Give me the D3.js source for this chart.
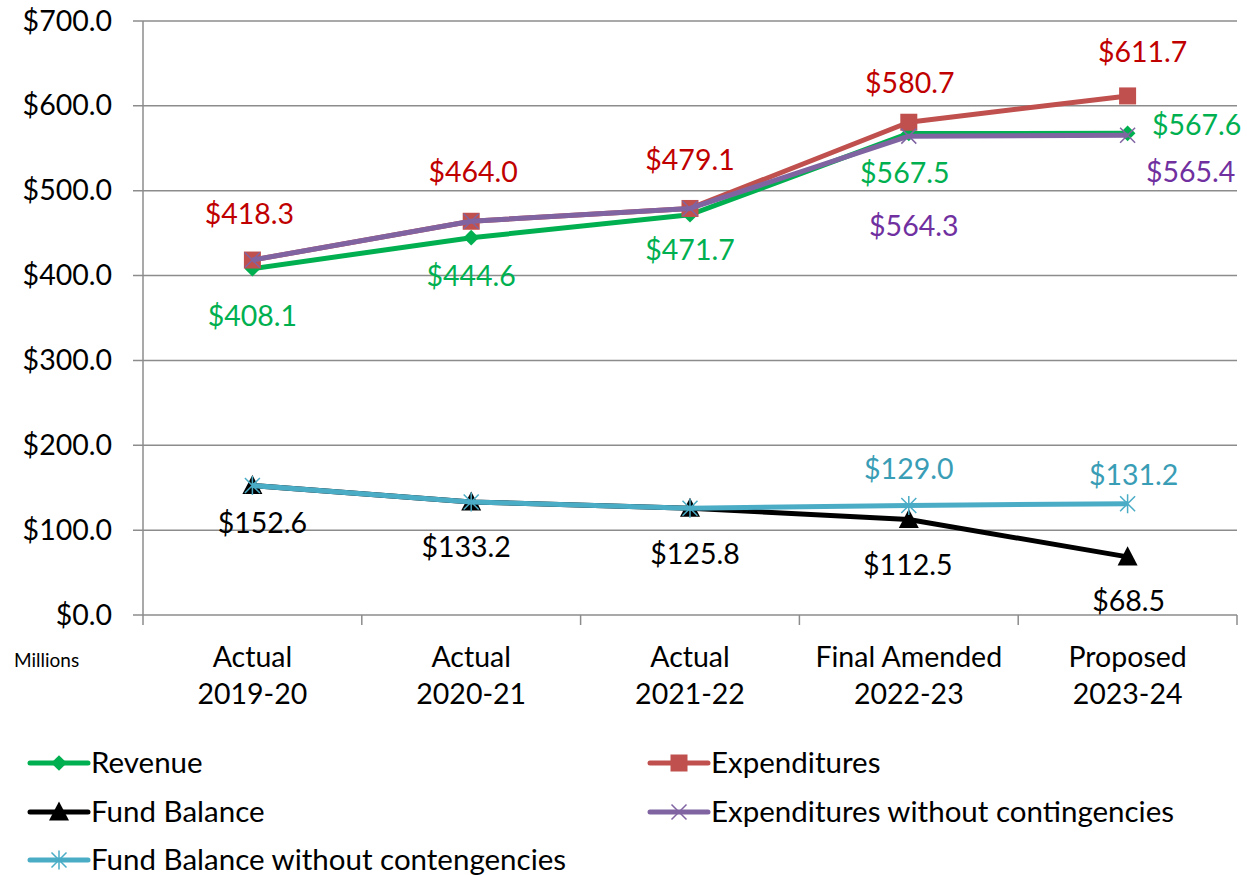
<!DOCTYPE html>
<html>
<head>
<meta charset="utf-8">
<script src="https://cdn.jsdelivr.net/npm/d3@7"></script>
<style>
  body { margin: 0; background: #fff; }
  text { font-family: Lato, "Open Sans", sans-serif; }
</style>
</head>
<body>
<div class="chart"></div>
<script>
// data
var categories = [["Actual", "2019-20"], ["Actual", "2020-21"], ["Actual", "2021-22"],
                  ["Final Amended", "2022-23"], ["Proposed", "2023-24"]];
var revenue = [408.1, 444.6, 471.7, 567.5, 567.6];
var expenditures = [418.3, 464.0, 479.1, 580.7, 611.7];
var fundBalance = [152.6, 133.2, 125.8, 112.5, 68.5];
var expNoCont = [418.3, 464.0, 479.1, 564.3, 565.4];
var fundNoCont = [152.6, 133.2, 125.8, 129.0, 131.2];
var yTicks = [0, 100, 200, 300, 400, 500, 600, 700];

// label offsets (dx, dy) from the point, null = no label
var revOff = [[0, 47], [0, 38], [0, 35], [-4, 40], [69, -8]];
var expOff = [[-3, -46], [2, -49], [0, -48], [1, -39], [15, -44]];
var fundOff = [[10, 38], [-5, 45], [5, 46], [-1, 45], [1, 44]];
var expNcOff = [null, null, null, [5, 90], [63, 37]];
var fundNcOff = [null, null, null, [0, -37], [6, -29]];

var FS = 28.5;

var series = [
  { name: "Revenue", values: revenue, line: "#00B050", text: "#00B050", marker: "diamond", off: revOff },
  { name: "Expenditures", values: expenditures, line: "#C0504D", text: "#C00000", marker: "square", off: expOff },
  { name: "Fund Balance", values: fundBalance, line: "#000000", text: "#000000", marker: "triangle", off: fundOff },
  { name: "Expenditures without contingencies", values: expNoCont, line: "#8064A2", text: "#7030A0", marker: "x", off: expNcOff },
  { name: "Fund Balance without contengencies", values: fundNoCont, line: "#4BACC6", text: "#3A9DB6", marker: "star", off: fundNcOff }
];

var svg = d3.select(".chart").append("svg")
  .attr("width", 1247)
  .attr("height", 875);

var x = d3.scaleBand()
  .domain(d3.range(categories.length))
  .range([143, 1237]);
var cx = i => x(i) + x.bandwidth() / 2;

var y = d3.scaleLinear()
  .domain([0, 700])
  .range([615, 21]);

// gridlines
svg.append("g").selectAll("line")
  .data(yTicks)
  .enter().append("line")
  .attr("x1", 133).attr("x2", 1237)
  .attr("y1", d => y(d)).attr("y2", d => y(d))
  .attr("stroke", "#8c8c8c").attr("stroke-width", 1.5);

// y axis
var leftAxis = d3.axisLeft(y).tickValues(yTicks).tickSize(0).tickPadding(31)
  .tickFormat(d => "$" + d3.format(".1f")(d));
var yg = svg.append("g").attr("transform", "translate(143,0)").call(leftAxis);
yg.select(".domain").remove();
yg.selectAll("text").attr("font-size", FS).attr("fill", "#000").attr("font-family", "Lato, sans-serif");
svg.append("line").attr("x1", 143).attr("x2", 143).attr("y1", y(700)).attr("y2", y(0))
  .attr("stroke", "#8c8c8c").attr("stroke-width", 1.5);

// x axis ticks at band boundaries
var bounds = d3.range(categories.length + 1).map(i => 143 + i * x.step());
svg.append("g").selectAll("line")
  .data(bounds)
  .enter().append("line")
  .attr("x1", d => d).attr("x2", d => d)
  .attr("y1", y(0)).attr("y2", y(0) + 10)
  .attr("stroke", "#8c8c8c").attr("stroke-width", 1.5);

svg.append("g").selectAll("text")
  .data(categories)
  .enter().append("text")
  .attr("x", (d, i) => cx(i))
  .attr("y", 667)
  .attr("text-anchor", "middle")
  .attr("font-size", FS)
  .each(function (d) {
    d3.select(this).selectAll("tspan").data(d).enter().append("tspan")
      .attr("x", d3.select(this).attr("x"))
      .attr("dy", (t, j) => j ? 37 : 0)
      .text(t => t);
  });

svg.append("text").attr("x", 14).attr("y", 667).attr("font-size", 19).text("Millions");

// markers
function drawMarker(g, type, color, s) {
  if (type === "diamond") {
    g.append("path").attr("d", d3.symbol(d3.symbolDiamond2, s * s * 0.7)()).attr("fill", color);
  } else if (type === "square") {
    g.append("rect").attr("x", -s / 2).attr("y", -s / 2).attr("width", s).attr("height", s).attr("fill", color);
  } else if (type === "triangle") {
    var h = s * 0.95;
    g.append("path").attr("d", `M0,${-h / 2 - 2}L${s / 2 + 1},${h / 2}L${-s / 2 - 1},${h / 2}Z`).attr("fill", color);
  } else if (type === "x") {
    var r = s / 2;
    g.append("path").attr("d", `M${-r},${-r}L${r},${r}M${-r},${r}L${r},${-r}`)
      .attr("stroke", color).attr("stroke-width", 1.5);
  } else if (type === "star") {
    var r2 = s / 2;
    g.append("path").attr("d", `M${-r2},${-r2}L${r2},${r2}M${-r2},${r2}L${r2},${-r2}M0,${-r2 - 2}L0,${r2 + 2}`)
      .attr("stroke", color).attr("stroke-width", 1.5);
  }
}
var markerSize = { diamond: 15, square: 17, triangle: 18, x: 15, star: 15 };

var line = d3.line().x((d, i) => cx(i)).y(d => y(d));

series.forEach(function (s) {
  var g = svg.append("g");
  g.append("path")
    .datum(s.values)
    .attr("d", line)
    .attr("fill", "none")
    .attr("stroke", s.line)
    .attr("stroke-width", 5)
    .attr("stroke-linejoin", "round");
  g.selectAll(".m")
    .data(s.values)
    .enter().append("g")
    .attr("transform", (d, i) => `translate(${cx(i)},${y(d)})`)
    .each(function () { drawMarker(d3.select(this), s.marker, s.line, markerSize[s.marker]); });
});

// data labels
series.forEach(function (s) {
  svg.append("g").selectAll("text")
    .data(s.values.map((v, i) => ({ v: v, i: i, o: s.off[i] })).filter(d => d.o))
    .enter().append("text")
    .attr("x", d => cx(d.i) + d.o[0])
    .attr("y", d => y(d.v) + d.o[1])
    .attr("dy", "0.35em")
    .attr("text-anchor", "middle")
    .attr("font-size", FS)
    .attr("fill", s.text)
    .text(d => "$" + d3.format(".1f")(d.v));
});

// legend
var legendPos = [[30, 763], [650, 763], [30, 812], [650, 812], [30, 860]];
series.forEach(function (s, i) {
  var g = svg.append("g").attr("transform", `translate(${legendPos[i][0]},${legendPos[i][1]})`);
  g.append("line").attr("x1", 0).attr("x2", 58).attr("stroke", s.line).attr("stroke-width", 5)
    .attr("stroke-linecap", "round");
  var mg = g.append("g").attr("transform", "translate(29,0)");
  drawMarker(mg, s.marker, s.line, markerSize[s.marker]);
  g.append("text").attr("x", 61).attr("dy", "0.35em").attr("font-size", 29.5).attr("fill", "#000").text(s.name);
});
</script>
</body>
</html>
